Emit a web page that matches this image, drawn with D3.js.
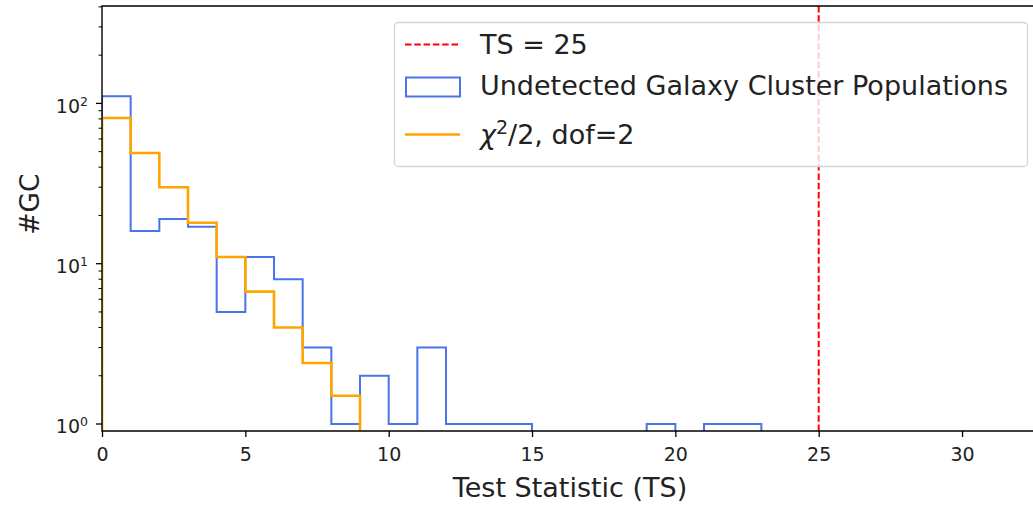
<!DOCTYPE html>
<html>
<head>
<meta charset="utf-8">
<script src="https://cdn.jsdelivr.net/npm/d3@7"></script>
<style>
  body { margin: 0; background: #fff; }
  svg { font-family: "DejaVu Sans", sans-serif; }
</style>
</head>
<body>
<div id="chart"></div>
<script>
// histogram of TS values, bins of width 1 starting at 0
var gcCounts = [111, 16, 19, 17, 5, 11, 8, 3, 1, 2, 1, 3, 1, 1, 1, 0, 0, 0, 0, 1, 0, 1, 1];
// expected chi2/2 (dof=2) counts per bin
var chiExpected = [81, 49, 30, 18, 11, 6.7, 4.0, 2.4, 1.5];
var binWidth = 1;
var tsThreshold = 25;
var xTicks = [0, 5, 10, 15, 20, 25, 30];
var yMajor = [0, 1, 2];   // exponents of 10
var legendLabels = ["TS = 25", "Undetected Galaxy Cluster Populations", "χ2/2, dof=2"];

(function() {
  var W = 1033, H = 505;
  var mLeft = 102, mTop = 6, mBottom = 431, mRight = 1038;

  var svg = d3.select("#chart").append("svg")
    .attr("width", W)
    .attr("height", H);

  var x = d3.scaleLinear().domain([0, 32.65]).range([mLeft, mRight]);
  var y = d3.scaleLog().domain([Math.pow(10, -0.0437), Math.pow(10, 2.6076)]).range([mBottom, mTop]);

  svg.append("clipPath").attr("id", "plotclip")
    .append("rect")
    .attr("x", mLeft).attr("y", mTop)
    .attr("width", mRight - mLeft).attr("height", mBottom - mTop);

  var plot = svg.append("g").attr("clip-path", "url(#plotclip)");

  var yv = function(v) { return v > 0 ? y(v) : mBottom + 10; };

  var stepPath = function(vals) {
    var p = d3.path();
    p.moveTo(x(0), mBottom + 10);
    for (var i = 0; i < vals.length; i++) {
      p.lineTo(x(i * binWidth), yv(vals[i]));
      p.lineTo(x((i + 1) * binWidth), yv(vals[i]));
    }
    p.lineTo(x(vals.length * binWidth), mBottom + 10);
    return p.toString();
  };

  // blue step histogram
  plot.append("path")
    .attr("d", stepPath(gcCounts))
    .attr("fill", "none")
    .attr("stroke", "#4a74e8")
    .attr("stroke-width", 2);

  // orange expected curve
  plot.append("path")
    .attr("d", stepPath(chiExpected))
    .attr("fill", "none")
    .attr("stroke", "orange")
    .attr("stroke-width", 2.6);

  // TS threshold line
  plot.append("line")
    .attr("x1", x(tsThreshold)).attr("x2", x(tsThreshold))
    .attr("y1", mTop).attr("y2", mBottom)
    .attr("stroke", "red")
    .attr("stroke-width", 2)
    .attr("stroke-dasharray", "6.5,2.8");

  // axes
  var axisG = svg.append("g");

  var xAxis = d3.axisBottom(x).tickValues(xTicks).tickSize(6).tickPadding(11)
    .tickFormat(d3.format("d"));
  var gx = axisG.append("g").attr("transform", "translate(0," + mBottom + ")").call(xAxis);
  gx.select(".domain").remove();
  gx.attr("font-size", 19).attr("font-family", "DejaVu Sans");
  gx.selectAll("line").attr("stroke", "#000").attr("stroke-width", 1.3);
  gx.selectAll("text").attr("fill", "#222");

  // y minor ticks
  var minors = [];
  [-1, 0, 1, 2].forEach(function(e) {
    for (var m = 2; m <= 9; m++) {
      var v = m * Math.pow(10, e);
      if (y(v) >= mTop && y(v) <= mBottom) minors.push(v);
    }
  });
  axisG.selectAll(".yminor").data(minors).enter().append("line")
    .attr("x1", mLeft - 3.5).attr("x2", mLeft)
    .attr("y1", function(d) { return y(d); })
    .attr("y2", function(d) { return y(d); })
    .attr("stroke", "#000").attr("stroke-width", 1);

  var gy = axisG.selectAll(".ymajor").data(yMajor).enter().append("g")
    .attr("transform", function(d) { return "translate(0," + y(Math.pow(10, d)) + ")"; });
  gy.append("line")
    .attr("x1", mLeft - 6).attr("x2", mLeft)
    .attr("stroke", "#000").attr("stroke-width", 1.3);
  var yt = gy.append("text")
    .attr("x", mLeft - 14)
    .attr("y", 9.5)
    .attr("text-anchor", "end")
    .attr("font-size", 19)
    .attr("fill", "#222");
  yt.append("tspan").text("10");
  yt.append("tspan").attr("font-size", 12.5).attr("dy", -7).text(function(d) { return d; });

  // spines
  axisG.append("path")
    .attr("d", "M" + (mRight + 5) + "," + mTop + "H" + mLeft + "V" + mBottom + "H" + (mRight + 5))
    .attr("fill", "none")
    .attr("stroke", "#000")
    .attr("stroke-width", 1.4);

  // axis labels
  svg.append("text")
    .attr("x", (mLeft + mRight) / 2)
    .attr("y", 497)
    .attr("text-anchor", "middle")
    .attr("font-size", 27)
    .attr("fill", "#222")
    .text("Test Statistic (TS)");

  svg.append("text")
    .attr("transform", "translate(39,204) rotate(-90)")
    .attr("text-anchor", "middle")
    .attr("font-size", 26.5)
    .attr("fill", "#222")
    .text("#GC");

  // legend
  var lg = svg.append("g");
  lg.append("rect")
    .attr("x", 394.5).attr("y", 22.5)
    .attr("width", 633).attr("height", 144)
    .attr("rx", 4).attr("ry", 4)
    .attr("fill", "#fff").attr("fill-opacity", 0.8)
    .attr("stroke", "#d4d4d4").attr("stroke-width", 1.3);

  lg.append("line")
    .attr("x1", 405).attr("x2", 460).attr("y1", 44.5).attr("y2", 44.5)
    .attr("stroke", "red").attr("stroke-width", 2)
    .attr("stroke-dasharray", "6.5,2.8");
  lg.append("rect")
    .attr("x", 406).attr("y", 77.5).attr("width", 54).attr("height", 19)
    .attr("fill", "none").attr("stroke", "#4a74e8").attr("stroke-width", 2);
  lg.append("line")
    .attr("x1", 405).attr("x2", 460).attr("y1", 134.5).attr("y2", 134.5)
    .attr("stroke", "orange").attr("stroke-width", 2.6);

  var lx = 480;
  lg.append("text").attr("x", lx).attr("y", 54).attr("font-size", 27).attr("fill", "#222")
    .text(legendLabels[0]);
  lg.append("text").attr("x", lx).attr("y", 95).attr("font-size", 27).attr("fill", "#222")
    .text(legendLabels[1]);
  var chiT = lg.append("text").attr("x", lx).attr("y", 144).attr("font-size", 27).attr("fill", "#222");
  chiT.append("tspan").attr("font-style", "italic").text("χ");
  chiT.append("tspan").attr("font-size", 19).attr("dy", -10).text("2");
  chiT.append("tspan").attr("dy", 10).text("/2, dof=2");
})();
</script>
</body>
</html>
